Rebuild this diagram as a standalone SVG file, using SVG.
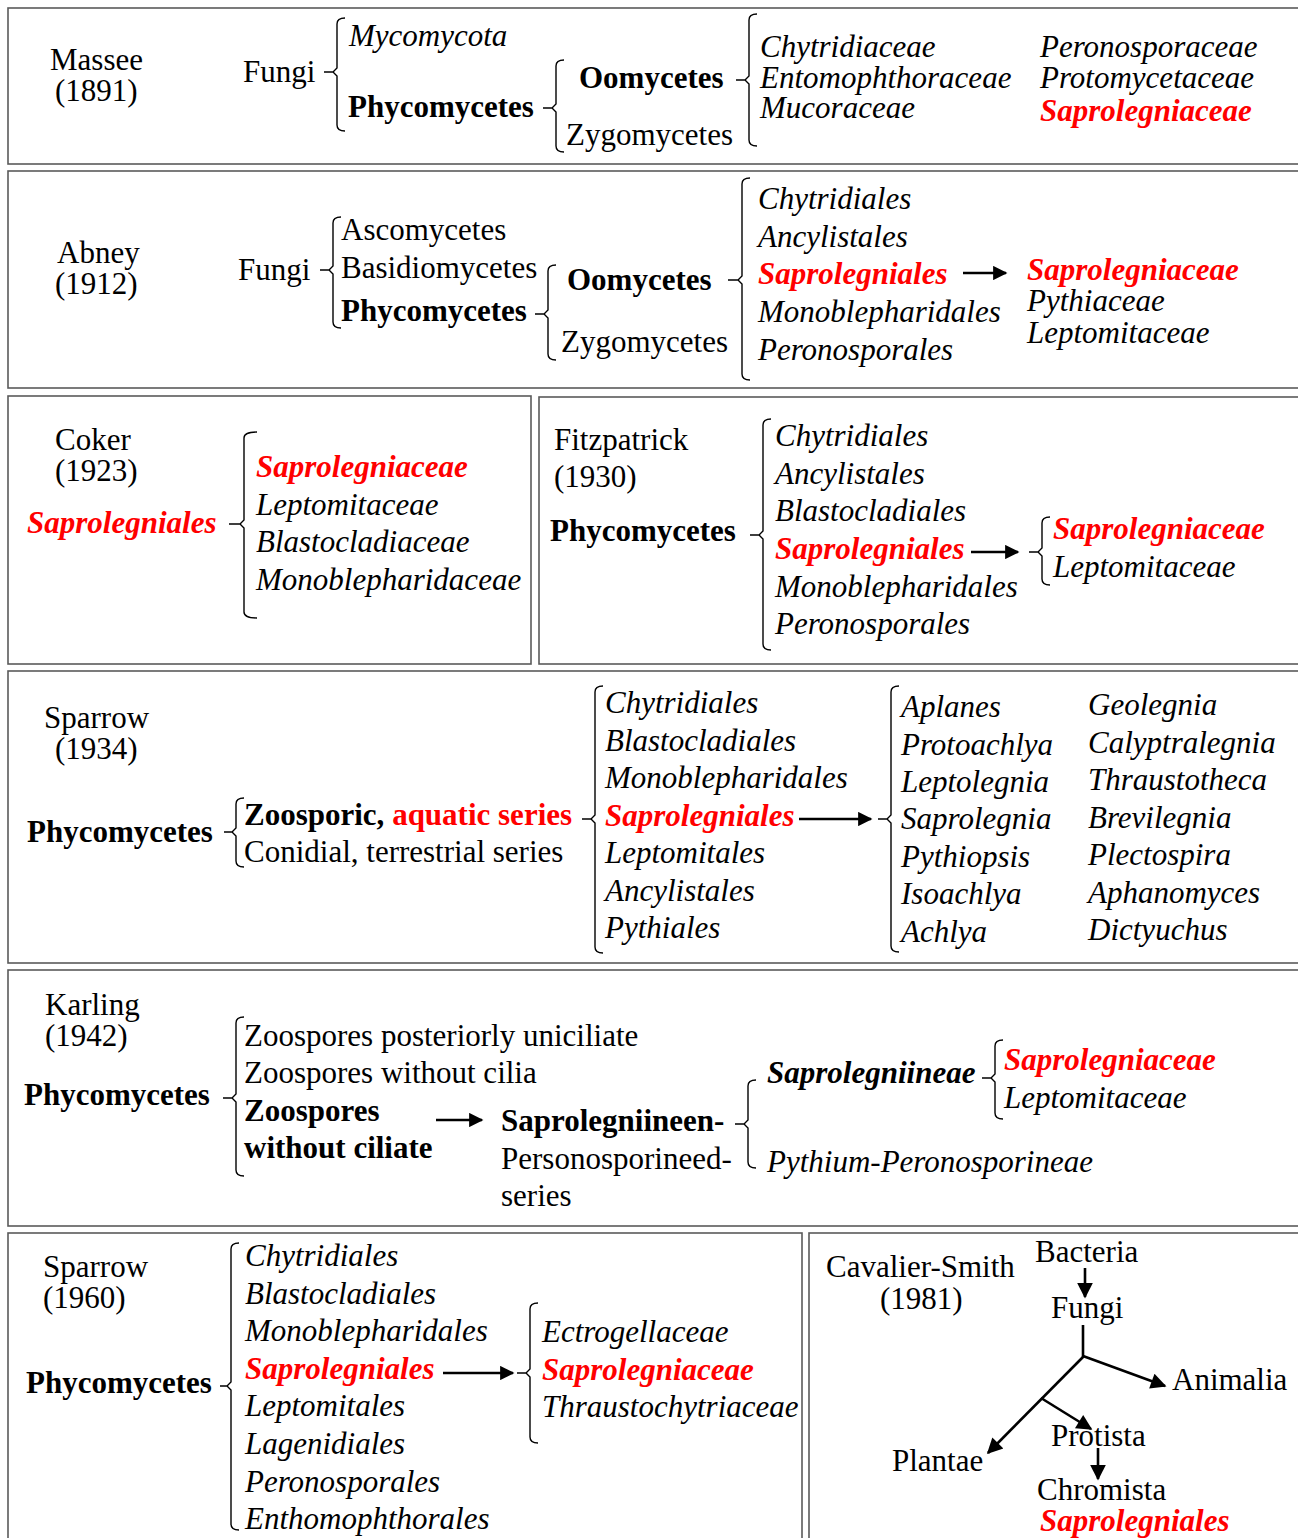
<svg xmlns="http://www.w3.org/2000/svg" width="1298" height="1538" viewBox="0 0 1298 1538">
  <style>
    text { font-family: "Liberation Serif", "Times New Roman", serif; font-size: 31px; fill: #000; }
    .i { font-style: italic; }
    .b { font-weight: bold; }
    .r { fill: #ff0000; font-weight: bold; font-style: italic; }
    .rn { fill: #ff0000; font-weight: bold; }
    .box { fill: #fff; stroke: #5a5a5a; stroke-width: 1.6; }
    .br { fill: none; stroke: #000; stroke-width: 1.4; }
    .ln { fill: none; stroke: #000; stroke-width: 2.6; }
  </style>
  <defs>
    <marker id="ah" viewBox="0 0 10 10" refX="9" refY="5" markerWidth="6.5" markerHeight="5.5" markerUnits="strokeWidth" orient="auto">
      <path d="M0,0 L10,5 L0,10 Z" fill="#000"/>
    </marker>
    <marker id="ahl" viewBox="0 0 10 10" refX="9" refY="5" markerWidth="7" markerHeight="6" markerUnits="strokeWidth" orient="auto">
      <path d="M0,0 L10,5 L0,10 Z" fill="#000"/>
    </marker>
  </defs>
  <rect width="1298" height="1538" fill="#fff"/>

  <!-- panel frames -->
  <g id="frames">
    <rect class="box" x="8" y="8" width="1300" height="156"/>
    <rect class="box" x="8" y="171" width="1300" height="217"/>
    <rect class="box" x="8" y="396" width="523" height="268"/>
    <rect class="box" x="539" y="397" width="770" height="267"/>
    <rect class="box" x="8" y="671" width="1300" height="292"/>
    <rect class="box" x="8" y="970" width="1300" height="256"/>
    <rect class="box" x="8" y="1233" width="794" height="320"/>
    <rect class="box" x="809" y="1233" width="500" height="320"/>
  </g>

  <!-- Massee (1891) -->
  <g id="massee">
    <text x="50" y="70">Massee</text>
    <text x="55" y="101">(1891)</text>
    <text x="243" y="82">Fungi</text>
    <text class="i" x="349" y="46">Mycomycota</text>
    <text class="b" x="348" y="117">Phycomycetes</text>
    <text class="b" x="579" y="88">Oomycetes</text>
    <text x="566" y="145">Zygomycetes</text>
    <text class="i" x="760" y="57">Chytridiaceae</text>
    <text class="i" x="760" y="88">Entomophthoraceae</text>
    <text class="i" x="760" y="118">Mucoraceae</text>
    <text class="i" x="1040" y="57">Peronosporaceae</text>
    <text class="i" x="1040" y="88">Protomycetaceae</text>
    <text class="r" x="1040" y="121">Saprolegniaceae</text>
  </g>

  <!-- Abney (1912) -->
  <g id="abney">
    <text x="57" y="263">Abney</text>
    <text x="55" y="294">(1912)</text>
    <text x="238" y="280">Fungi</text>
    <text x="341" y="240">Ascomycetes</text>
    <text x="341" y="278">Basidiomycetes</text>
    <text class="b" x="341" y="321">Phycomycetes</text>
    <text class="b" x="567" y="290">Oomycetes</text>
    <text x="561" y="352">Zygomycetes</text>
    <text class="i" x="758" y="209">Chytridiales</text>
    <text class="i" x="758" y="247">Ancylistales</text>
    <text class="r" x="758" y="284">Saprolegniales</text>
    <text class="i" x="758" y="322">Monoblepharidales</text>
    <text class="i" x="758" y="360">Peronosporales</text>
    <text class="r" x="1027" y="280">Saprolegniaceae</text>
    <text class="i" x="1027" y="311">Pythiaceae</text>
    <text class="i" x="1027" y="343">Leptomitaceae</text>
  </g>

  <!-- Coker (1923) -->
  <g id="coker">
    <text x="55" y="450">Coker</text>
    <text x="55" y="481">(1923)</text>
    <text class="r" x="27" y="533">Saprolegniales</text>
    <text class="r" x="256" y="477">Saprolegniaceae</text>
    <text class="i" x="256" y="515">Leptomitaceae</text>
    <text class="i" x="256" y="552">Blastocladiaceae</text>
    <text class="i" x="256" y="590">Monoblepharidaceae</text>
  </g>

  <!-- Fitzpatrick (1930) -->
  <g id="fitzpatrick">
    <text x="554" y="450">Fitzpatrick</text>
    <text x="554" y="487">(1930)</text>
    <text class="b" x="550" y="541">Phycomycetes</text>
    <text class="i" x="775" y="446">Chytridiales</text>
    <text class="i" x="775" y="484">Ancylistales</text>
    <text class="i" x="775" y="521">Blastocladiales</text>
    <text class="r" x="775" y="559">Saprolegniales</text>
    <text class="i" x="775" y="597">Monoblepharidales</text>
    <text class="i" x="775" y="634">Peronosporales</text>
    <text class="r" x="1053" y="539">Saprolegniaceae</text>
    <text class="i" x="1053" y="577">Leptomitaceae</text>
  </g>

  <!-- Sparrow (1934) -->
  <g id="sparrow1934">
    <text x="44" y="728">Sparrow</text>
    <text x="55" y="759">(1934)</text>
    <text class="b" x="27" y="842">Phycomycetes</text>
    <text class="b" x="244" y="825">Zoosporic, <tspan class="rn">aquatic series</tspan></text>
    <text x="244" y="862">Conidial, terrestrial series</text>
    <text class="i" x="605" y="713">Chytridiales</text>
    <text class="i" x="605" y="751">Blastocladiales</text>
    <text class="i" x="605" y="788">Monoblepharidales</text>
    <text class="r" x="605" y="826">Saprolegniales</text>
    <text class="i" x="605" y="863">Leptomitales</text>
    <text class="i" x="605" y="901">Ancylistales</text>
    <text class="i" x="605" y="938">Pythiales</text>
    <text class="i" x="901" y="717">Aplanes</text>
    <text class="i" x="901" y="755">Protoachlya</text>
    <text class="i" x="901" y="792">Leptolegnia</text>
    <text class="i" x="901" y="829">Saprolegnia</text>
    <text class="i" x="901" y="867">Pythiopsis</text>
    <text class="i" x="901" y="904">Isoachlya</text>
    <text class="i" x="901" y="942">Achlya</text>
    <text class="i" x="1088" y="715">Geolegnia</text>
    <text class="i" x="1088" y="753">Calyptralegnia</text>
    <text class="i" x="1088" y="790">Thraustotheca</text>
    <text class="i" x="1088" y="828">Brevilegnia</text>
    <text class="i" x="1088" y="865">Plectospira</text>
    <text class="i" x="1088" y="903">Aphanomyces</text>
    <text class="i" x="1088" y="940">Dictyuchus</text>
  </g>

  <!-- Karling (1942) -->
  <g id="karling">
    <text x="45" y="1015">Karling</text>
    <text x="45" y="1046">(1942)</text>
    <text class="b" x="24" y="1105">Phycomycetes</text>
    <text x="244" y="1046">Zoospores posteriorly uniciliate</text>
    <text x="244" y="1083">Zoospores without cilia</text>
    <text class="b" x="244" y="1121">Zoospores</text>
    <text class="b" x="244" y="1158">without ciliate</text>
    <text class="b" x="501" y="1131">Saprolegniineen-</text>
    <text x="501" y="1169">Personosporineed-</text>
    <text x="501" y="1206">series</text>
    <text class="b i" x="767" y="1083">Saprolegniineae</text>
    <text class="r" x="1004" y="1070">Saprolegniaceae</text>
    <text class="i" x="1004" y="1108">Leptomitaceae</text>
    <text class="i" x="767" y="1172">Pythium-Peronosporineae</text>
  </g>

  <!-- Sparrow (1960) -->
  <g id="sparrow1960">
    <text x="43" y="1277">Sparrow</text>
    <text x="43" y="1308">(1960)</text>
    <text class="b" x="26" y="1393">Phycomycetes</text>
    <text class="i" x="245" y="1266">Chytridiales</text>
    <text class="i" x="245" y="1304">Blastocladiales</text>
    <text class="i" x="245" y="1341">Monoblepharidales</text>
    <text class="r" x="245" y="1379">Saprolegniales</text>
    <text class="i" x="245" y="1416">Leptomitales</text>
    <text class="i" x="245" y="1454">Lagenidiales</text>
    <text class="i" x="245" y="1492">Peronosporales</text>
    <text class="i" x="245" y="1529">Enthomophthorales</text>
    <text class="i" x="542" y="1342">Ectrogellaceae</text>
    <text class="r" x="542" y="1380">Saprolegniaceae</text>
    <text class="i" x="542" y="1417">Thraustochytriaceae</text>
  </g>

  <!-- Cavalier-Smith (1981) -->
  <g id="cavalier-smith">
    <text x="826" y="1277">Cavalier-Smith</text>
    <text x="880" y="1309">(1981)</text>
    <text x="1035" y="1262">Bacteria</text>
    <text x="1051" y="1318">Fungi</text>
    <text x="1172" y="1390">Animalia</text>
    <text x="1051" y="1446">Protista</text>
    <text x="892" y="1471">Plantae</text>
    <text x="1037" y="1500">Chromista</text>
    <text class="r" x="1040" y="1531">Saprolegniales</text>
  </g>

  <!-- brackets, ticks and arrows -->
  <g id="connectors">
    <!-- Massee -->
    <path class="br" d="M345,18 Q337,18 337,24 L337,68 L333,72 L337,76 L337,125 Q337,131 345,131 M324,72 L333,72"/>
    <path class="br" d="M564,60 Q556,60 556,66 L556,104 L552,108 L556,112 L556,146 Q556,152 564,152 M543,108 L552,108"/>
    <path class="br" d="M757,14 Q749,14 749,20 L749,76 L745,80 L749,84 L749,140 Q749,146 757,146 M736,80 L745,80"/>
    <!-- Abney -->
    <path class="br" d="M341,217 Q333,217 333,223 L333,266 L329,270 L333,274 L333,322 Q333,328 341,328 M320,270 L329,270"/>
    <path class="br" d="M556,265 Q548,265 548,271 L548,310 L544,314 L548,318 L548,354 Q548,360 556,360 M535,314 L544,314"/>
    <path class="br" d="M750,178 Q742,178 742,184 L742,276 L738,280 L742,284 L742,374 Q742,380 750,380 M728,280 L738,280"/>
    <line class="ln" x1="963" y1="273" x2="1006" y2="273" marker-end="url(#ah)"/>
    <!-- Coker -->
    <path class="br" d="M257,432 Q244,432 244,438 L244,520 L240,524 L244,528 L244,612 Q244,618 257,618 M229,524 L240,524"/>
    <!-- Fitzpatrick -->
    <path class="br" d="M771,419 Q763,419 763,425 L763,531 L759,535 L763,539 L763,644 Q763,650 771,650 M750,535 L759,535"/>
    <line class="ln" x1="971" y1="552" x2="1018" y2="552" marker-end="url(#ah)"/>
    <path class="br" d="M1050,517 Q1042,517 1042,523 L1042,548 L1038,552 L1042,556 L1042,579 Q1042,585 1050,585 M1029,552 L1038,552"/>
    <!-- Sparrow 1934 -->
    <path class="br" d="M244,798 Q236,798 236,804 L236,828 L232,832 L236,836 L236,861 Q236,867 244,867 M224,832 L232,832"/>
    <path class="br" d="M603,686 Q595,686 595,692 L595,815 L591,819 L595,823 L595,947 Q595,953 603,953 M582,819 L591,819"/>
    <line class="ln" x1="799" y1="819" x2="871" y2="819" marker-end="url(#ah)"/>
    <path class="br" d="M899,686 Q891,686 891,692 L891,815 L887,819 L891,823 L891,946 Q891,952 899,952 M878,819 L887,819"/>
    <!-- Karling -->
    <path class="br" d="M244,1017 Q236,1017 236,1023 L236,1094 L232,1098 L236,1102 L236,1170 Q236,1176 244,1176 M223,1098 L232,1098"/>
    <line class="ln" x1="436" y1="1120" x2="482" y2="1120" marker-end="url(#ah)"/>
    <path class="br" d="M756,1080 Q748,1080 748,1086 L748,1120 L744,1124 L748,1128 L748,1162 Q748,1168 756,1168 M735,1124 L744,1124"/>
    <path class="br" d="M1003,1040 Q995,1040 995,1046 L995,1074 L991,1078 L995,1082 L995,1113 Q995,1119 1003,1119 M982,1078 L991,1078"/>
    <!-- Sparrow 1960 -->
    <path class="br" d="M239,1243 Q231,1243 231,1249 L231,1382 L227,1386 L231,1390 L231,1524 Q231,1530 239,1530 M220,1386 L227,1386"/>
    <line class="ln" x1="443" y1="1373" x2="513" y2="1373" marker-end="url(#ah)"/>
    <path class="br" d="M538,1303 Q530,1303 530,1309 L530,1369 L526,1373 L530,1377 L530,1437 Q530,1443 538,1443 M517,1373 L526,1373"/>
    <!-- Cavalier-Smith tree -->
    <line class="ln" x1="1085" y1="1268" x2="1085" y2="1297" marker-end="url(#ahl)"/>
    <line class="ln" x1="1083" y1="1325" x2="1083" y2="1357"/>
    <line class="ln" x1="1083" y1="1356" x2="1165" y2="1386" marker-end="url(#ahl)"/>
    <line class="ln" x1="1084" y1="1356" x2="988" y2="1453" marker-end="url(#ahl)"/>
    <line class="ln" x1="1041" y1="1398" x2="1091" y2="1429" marker-end="url(#ahl)"/>
    <line class="ln" x1="1098" y1="1448" x2="1098" y2="1479" marker-end="url(#ahl)"/>
  </g>
</svg>
